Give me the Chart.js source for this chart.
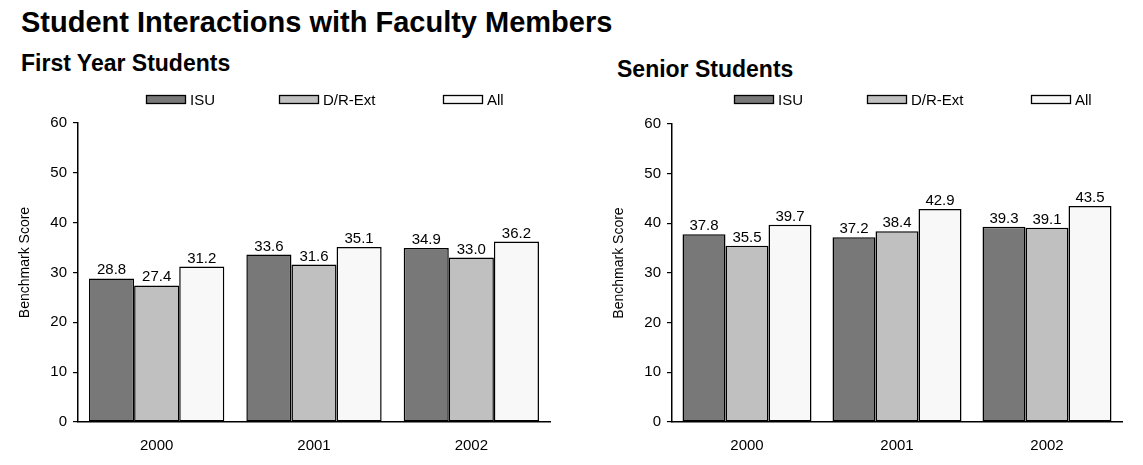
<!DOCTYPE html>
<html>
<head>
<meta charset="utf-8">
<script src="https://cdn.jsdelivr.net/npm/chart.js@4.4.1/dist/chart.umd.min.js"></script>
<style>
  html, body { margin: 0; padding: 0; background: #fff; }
  body { width: 1143px; height: 465px; position: relative; overflow: hidden;
         font-family: "Liberation Sans", Arial, Helvetica, sans-serif; color: #000; }
  .hd { position: absolute; font-weight: bold; white-space: nowrap; }
  #title { left: 21px; top: 8px; font-size: 29px; line-height: 29px; }
  #sub1 { left: 21px; top: 52px; font-size: 23px; line-height: 23px; }
  #sub2 { left: 617px; top: 58px; font-size: 23px; line-height: 23px; }
  canvas { position: absolute; top: 0; }
  #c1 { left: 0; }
  #c2 { left: 572px; }
</style>
</head>
<body>
<div class="hd" id="title">Student Interactions with Faculty Members</div>
<div class="hd" id="sub1">First Year Students</div>
<div class="hd" id="sub2">Senior Students</div>
<canvas id="c1" width="572" height="465"></canvas>
<canvas id="c2" width="571" height="465"></canvas>
<script>
// Benchmark scores by year
const years = ["2000", "2001", "2002"];
const seriesNames = ["ISU", "D/R-Ext", "All"];

const firstYearISU = [28.8, 33.6, 34.9];
const firstYearDRExt = [27.4, 31.6, 33.0];
const firstYearAll = [31.2, 35.1, 36.2];

const seniorISU = [37.8, 37.2, 39.3];
const seniorDRExt = [35.5, 38.4, 39.1];
const seniorAll = [39.7, 42.9, 43.5];

const yTicks = [0, 10, 20, 30, 40, 50, 60];
const yTitle = "Benchmark Score";

const fills = ["#787878", "#c0c0c0", "#f8f8f8"];
const FONT = '"Liberation Sans", Arial, Helvetica, sans-serif';

// Value labels printed above each bar
const valueLabels = {
  id: "valueLabels",
  afterDatasetsDraw(chart) {
    const ctx = chart.ctx;
    ctx.save();
    ctx.font = "15px " + FONT;
    ctx.fillStyle = "#000";
    ctx.textAlign = "center";
    ctx.textBaseline = "alphabetic";
    chart.data.datasets.forEach((ds, i) => {
      chart.getDatasetMeta(i).data.forEach((bar, j) => {
        ctx.fillText(ds.data[j].toFixed(1), bar.x, bar.y - 4);
      });
    });
    ctx.restore();
  }
};

// Row of legend swatches above the plot
const swatchLegend = {
  id: "swatchLegend",
  afterDraw(chart, args, opts) {
    const ctx = chart.ctx;
    ctx.save();
    ctx.font = "15px " + FONT;
    ctx.textBaseline = "middle";
    ctx.textAlign = "left";
    chart.data.datasets.forEach((ds, i) => {
      const x = opts.x + opts.offsets[i];
      ctx.fillStyle = ds.backgroundColor;
      ctx.fillRect(x, opts.y, opts.boxW, opts.boxH);
      ctx.strokeStyle = "#000";
      ctx.lineWidth = 1.3;
      ctx.strokeRect(x + 0.5, opts.y + 0.5, opts.boxW - 1, opts.boxH - 1);
      ctx.fillStyle = "#000";
      ctx.fillText(ds.label, x + opts.boxW + 4, opts.y + opts.boxH / 2 + 1);
    });
    ctx.restore();
  }
};

// Rotated value-axis caption, a little above the plot's middle
const axisCaption = {
  id: "axisCaption",
  afterDraw(chart, args, opts) {
    const ctx = chart.ctx;
    const area = chart.chartArea;
    ctx.save();
    ctx.font = "14px " + FONT;
    ctx.fillStyle = "#000";
    ctx.textAlign = "center";
    ctx.textBaseline = "middle";
    ctx.translate(opts.x, (area.top + area.bottom) / 2 + opts.dy);
    ctx.rotate(-Math.PI / 2);
    ctx.fillText(yTitle, 0, 0);
    ctx.restore();
  }
};

function makeChart(id, isu, drext, all, pad, legendX, captionX) {
  const values = [isu, drext, all];
  return new Chart(document.getElementById(id), {
    type: "bar",
    data: {
      labels: years,
      datasets: seriesNames.map((name, i) => ({
        label: name,
        data: values[i],
        backgroundColor: fills[i],
        borderColor: "#000",
        borderWidth: 1.5,
        borderSkipped: false,
        barPercentage: 1,
        categoryPercentage: 0.86
      }))
    },
    options: {
      responsive: false,
      animation: false,
      devicePixelRatio: 1,
      layout: { padding: pad },
      plugins: {
        legend: { display: false },
        tooltip: { enabled: false },
        swatchLegend: { x: legendX, y: 95, boxW: 40, boxH: 9, offsets: [0, 133, 297] },
        axisCaption: { x: captionX, dy: -10 }
      },
      scales: {
        x: {
          grid: { display: false, drawTicks: false },
          border: { display: true, color: "#000", width: 1.5 },
          ticks: { color: "#000", font: { family: FONT, size: 15 }, padding: 15 },
          afterFit(scale) { scale.height = 43; }
        },
        y: {
          min: 0,
          max: 60,
          afterBuildTicks(scale) { scale.ticks = yTicks.map(v => ({ value: v })); },
          grid: { display: true, drawOnChartArea: false, drawTicks: true, tickLength: 5, color: "#000", lineWidth: 1.2 },
          border: { display: true, color: "#000", width: 1.5 },
          ticks: { color: "#000", font: { family: FONT, size: 15 }, padding: 6 },
          title: { display: false },
          afterFit(scale) { scale.width = 64; }
        }
      }
    },
    plugins: [valueLabels, swatchLegend, axisCaption]
  });
}

makeChart("c1", firstYearISU, firstYearDRExt, firstYearAll,
          { left: 14, right: 22, top: 123, bottom: 0 }, 146, 25);
makeChart("c2", seniorISU, seniorDRExt, seniorAll,
          { left: 36, right: 21, top: 124, bottom: 0 }, 162, 47);
</script>
</body>
</html>
